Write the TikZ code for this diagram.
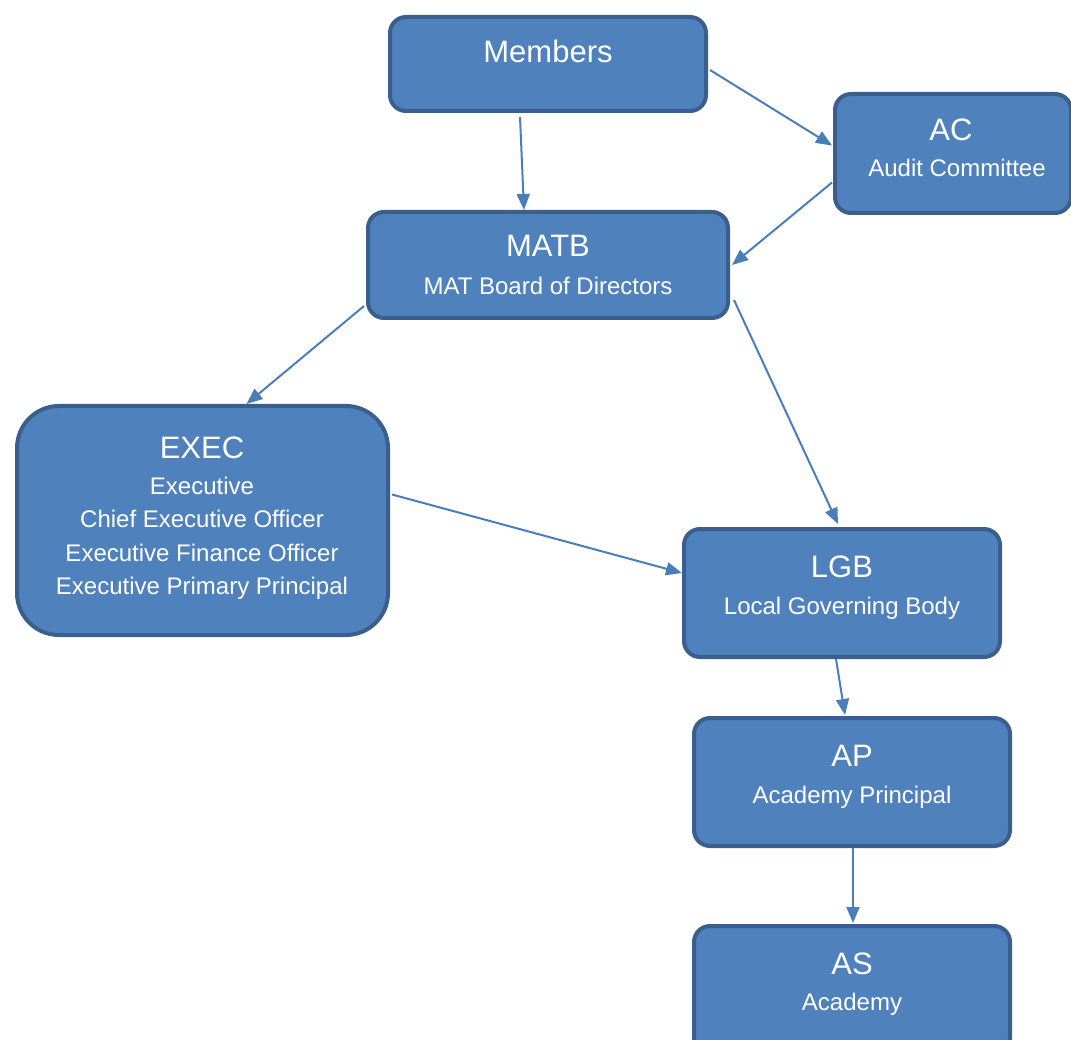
\documentclass[tikz,border=0pt]{standalone}
\usepackage{fontspec}
\setmainfont{Liberation Sans}
\usetikzlibrary{arrows.meta}
\definecolor{boxfill}{HTML}{4F81BD}
\definecolor{boxline}{HTML}{3A5F8E}
\definecolor{arrowcol}{HTML}{4A7EBB}
\tikzset{
  orgbox/.style={draw=boxline, fill=boxfill, line width=4pt, rounded corners=16pt,
    inner sep=0pt, anchor=north west},
  ttl/.style={text=white, anchor=base, inner sep=0pt, font=\fontsize{31}{36}\selectfont},
  sub/.style={text=white, anchor=base, inner sep=0pt, font=\fontsize{24}{28}\selectfont},
  conn/.style={draw=arrowcol, line width=2pt, -{Triangle[length=16pt,width=13pt]}}
}
\begin{document}
\begin{tikzpicture}[x=1pt,y=-1pt]
\useasboundingbox (0,0) rectangle (1071,1040);
% boxes
\node[orgbox, minimum width=316pt, minimum height=94pt] (members) at (388,15) {};
\node[orgbox, minimum width=236pt, minimum height=119pt] (ac) at (833,92) {};
\node[orgbox, minimum width=360pt, minimum height=106pt] (matb) at (366,210) {};
\node[orgbox, minimum width=371pt, minimum height=229pt, rounded corners=42pt] (exec) at (15,404) {};
\node[orgbox, minimum width=316pt, minimum height=128pt] (lgb) at (682,527) {};
\node[orgbox, minimum width=316pt, minimum height=128pt] (ap) at (692,716) {};
\node[orgbox, minimum width=316pt, minimum height=128pt] (as) at (692,924) {};
% texts
\node[ttl] (tmembers) at (548,63) {Members};
\node[ttl] (tac) at (951,141) {AC};
\node[sub] (sac) at (957,177) {Audit Committee};
\node[ttl] (tmatb) at (548,257) {MATB};
\node[sub] (smatb) at (548,295) {MAT Board of Directors};
\node[ttl] (texec) at (202,458) {EXEC};
\node[sub] (sexec1) at (202,494) {Executive};
\node[sub] (sexec2) at (202,527) {Chief Executive Officer};
\node[sub] (sexec3) at (202,561) {Executive Finance Officer};
\node[sub] (sexec4) at (202,594) {Executive Primary Principal};
\node[ttl] (tlgb) at (842,577) {LGB};
\node[sub] (slgb) at (842,614) {Local Governing Body};
\node[ttl] (tap) at (852,766) {AP};
\node[sub] (sap) at (852,803) {Academy Principal};
\node[ttl] (tas) at (852,974) {AS};
\node[sub] (sas) at (852,1010) {Academy};
% connectors
\draw[conn] ([xshift=-28pt,yshift=-4pt]members.south) -- ([xshift=-24pt]matb.north);
\draw[conn] ([xshift=2pt,yshift=-6pt]members.east) -- ([xshift=-1pt,yshift=8pt]ac.west);
\draw[conn] ([xshift=-1pt,yshift=-29pt]ac.west) -- ([xshift=2pt]matb.east);
\draw[conn] ([xshift=-2pt,yshift=-41pt]matb.west) -- ([xshift=44pt]exec.north);
\draw[conn] ([xshift=4pt,yshift=-35pt]matb.east) -- ([xshift=-4pt,yshift=3pt]lgb.north);
\draw[conn] ([xshift=2pt,yshift=26pt]exec.east) -- ([xshift=0pt,yshift=20pt]lgb.west);
\draw[conn] ([xshift=-6pt]lgb.south) -- ([xshift=-7pt,yshift=1pt]ap.north);
\draw[conn] ([xshift=1pt]ap.south) -- ([xshift=1pt,yshift=1pt]as.north);
\end{tikzpicture}
\end{document}
